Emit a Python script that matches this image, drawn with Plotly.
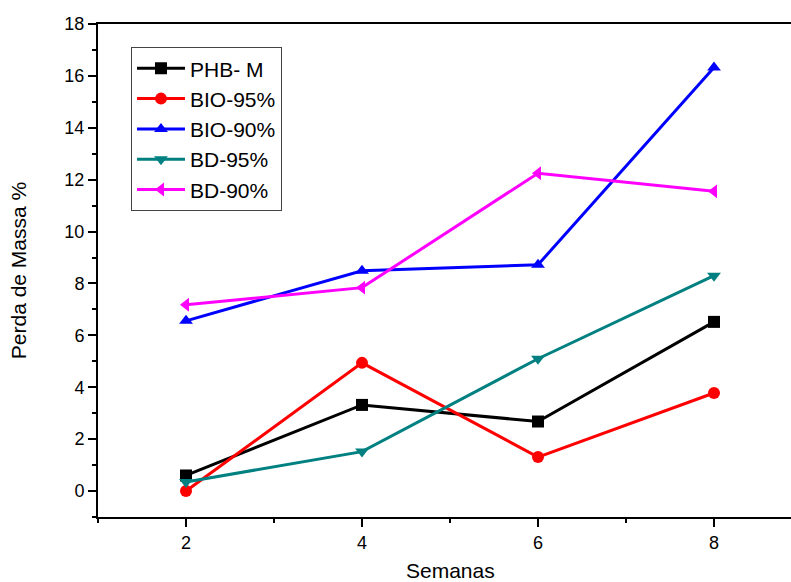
import plotly.graph_objects as go

weeks = [2, 4, 6, 8]
phb_m = [0.6, 3.32, 2.68, 6.52]
bio_95 = [0.0, 4.94, 1.31, 3.78]
bio_90 = [6.56, 8.49, 8.72, 16.32]
bd_95 = [0.35, 1.52, 5.1, 8.3]
bd_90 = [7.18, 7.84, 12.25, 11.55]

series = [
    ("PHB- M", phb_m, "black", "square"),
    ("BIO-95%", bio_95, "red", "circle"),
    ("BIO-90%", bio_90, "blue", "triangle-up"),
    ("BD-95%", bd_95, "#008080", "triangle-down"),
    ("BD-90%", bd_90, "magenta", "triangle-left"),
]

fig = go.Figure()
for name, vals, col, sym in series:
    fig.add_trace(go.Scatter(
        x=weeks, y=vals, name=name, mode="lines+markers",
        line=dict(color=col, width=3),
        marker=dict(color=col, symbol=sym, size=12),
    ))

fig.update_layout(
    width=791, height=582,
    margin=dict(l=98, r=0, t=24, b=65, autoexpand=False),
    plot_bgcolor="white", paper_bgcolor="white",
    font=dict(family="Liberation Sans, Arial", color="black", size=18),
    showlegend=True,
    legend=dict(
        x=0.0476, y=0.953, xanchor="left", yanchor="top",
        bordercolor="#444", borderwidth=1, bgcolor="white",
        font=dict(size=21), tracegroupgap=0, itemwidth=48,
    ),
)
fig.add_annotation(
    text="Semanas", xref="paper", yref="paper", x=0.508, y=0,
    xanchor="center", yanchor="top", yshift=-40, showarrow=False,
    font=dict(size=21),
)
fig.update_xaxes(
    range=[1, 8.875], tickvals=[2, 4, 6, 8],
    showline=True, linecolor="black", linewidth=2, mirror=True,
    ticks="outside", ticklen=8, tickwidth=2, tickcolor="black",
    minor=dict(dtick=1, tick0=1, ticks="outside", ticklen=4, tickwidth=2, tickcolor="black"),
    showgrid=False, zeroline=False, automargin=False,
    tickfont=dict(size=18),
)
fig.update_yaxes(
    range=[-1, 18], tickvals=list(range(0, 19, 2)),
    showline=True, linecolor="black", linewidth=2,
    ticks="outside", ticklen=8, tickwidth=2, tickcolor="black",
    minor=dict(dtick=1, tick0=1, ticks="outside", ticklen=4, tickwidth=2, tickcolor="black"),
    showgrid=False, zeroline=False, automargin=False,
    title=dict(text="Perda de Massa %", font=dict(size=21), standoff=32),
    tickfont=dict(size=18),
)

fig.write_html("out.html")
